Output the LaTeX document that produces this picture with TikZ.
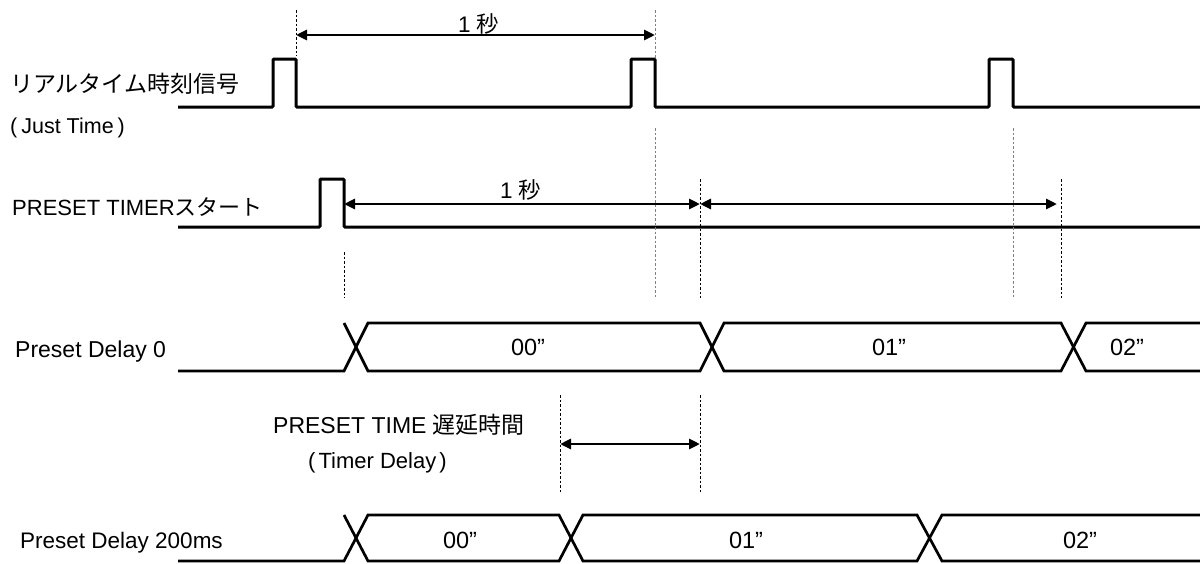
\documentclass[tikz,border=0pt]{standalone}
\usepackage{fontspec}
\setmainfont{Liberation Sans}
\newfontfamily\jp{Noto Sans CJK JP}
\usetikzlibrary{arrows.meta}
\begin{document}
\begin{tikzpicture}[x=1pt,y=-1pt,
  sig/.style={line width=3pt, rounded corners=1pt},
  bus/.style={line width=2.7pt},
  guide/.style={line width=0.8pt, dash pattern=on 2.5pt off 2pt},
  guideg/.style={guide, draw=gray},
  dim/.style={line width=2.8pt, {Triangle[length=11pt,width=10pt]}-{Triangle[length=11pt,width=10pt]}},
  lbl/.style={font=\fontsize{22.5}{26}\selectfont, inner sep=0pt, anchor=base west},
  val/.style={font=\fontsize{23.5}{26}\selectfont, inner sep=0pt, anchor=base},
]
\useasboundingbox (0,0) rectangle (1200,563);

% signal 1
\draw[sig] (178,107) -- (273,107) -- (273,59) -- (296,59) -- (296,107) -- (631,107) -- (631,59) -- (655,59) -- (655,107) -- (989,107) -- (989,59) -- (1013,59) -- (1013,107) -- (1200,107);
% signal 2
\draw[sig] (178,227) -- (320,227) -- (320,179) -- (344,179) -- (344,227) -- (1200,227);
% bus rows
\draw[bus] (178,371) -- (344,371) -- (368,323) -- (700,323) -- (724,371) -- (1061,371) -- (1086,323) -- (1200,323);
\draw[bus] (344,323) -- (368,371) -- (700,371) -- (724,323) -- (1061,323) -- (1086,371) -- (1200,371);
\draw[bus] (178,561) -- (344,561) -- (368,515) -- (559,515) -- (583,561) -- (917,561) -- (942,515) -- (1200,515);
\draw[bus] (344,515) -- (368,561) -- (559,561) -- (583,515) -- (917,515) -- (942,561) -- (1200,561);

% guides
\coordinate (g1a) at (296,10);  \coordinate (g1b) at (296,56);
\coordinate (g2a) at (655,10);  \coordinate (g2b) at (655,58);
\coordinate (g3a) at (655,128); \coordinate (g3b) at (655,297);
\coordinate (g4a) at (1013,128);\coordinate (g4b) at (1013,297);
\coordinate (g5a) at (344,252); \coordinate (g5b) at (344,298);
\coordinate (g6a) at (700,179); \coordinate (g6b) at (700,298);
\coordinate (g7a) at (1061,179);\coordinate (g7b) at (1061,298);
\coordinate (g8a) at (560,395); \coordinate (g8b) at (560,492);
\coordinate (g9a) at (700,395); \coordinate (g9b) at (700,492);
\draw[guide] (g1a) -- (g1b);
\draw[guideg] (g2a) -- (g2b);
\draw[guideg] (g3a) -- (g3b);
\draw[guideg] (g4a) -- (g4b);
\draw[guide] (g5a) -- (g5b);
\draw[guide] (g6a) -- (g6b);
\draw[guide] (g7a) -- (g7b);
\draw[guide] (g8a) -- (g8b);
\draw[guide] (g9a) -- (g9b);

% dimension arrows
\coordinate (d1a) at (296,35);  \coordinate (d1b) at (655,35);
\coordinate (d2a) at (344,204); \coordinate (d2b) at (700,204);
\coordinate (d3a) at (700,204); \coordinate (d3b) at (1057,204);
\coordinate (d4a) at (560,444); \coordinate (d4b) at (700,444);
\draw[dim] (d1a) -- (d1b);
\draw[dim] (d2a) -- (d2b);
\draw[dim] (d3a) -- (d3b);
\draw[dim] (d4a) -- (d4b);

% labels
\node[lbl, font=\jp\fontsize{23}{26}\selectfont] (rt) at (10,92) {リアルタイム時刻信号};
\node[lbl, font=\fontsize{21.5}{26}\selectfont] (jt) at (10,133) {(\hspace{4pt}Just Time\hspace{4pt})};
\node[lbl, font=\fontsize{22}{26}\selectfont] (pt) at (12,215) {PRESET TIMER{\jp スタート}};
\node[lbl, font=\fontsize{23}{26}\selectfont] (pd0) at (15,357) {Preset Delay 0};
\node[lbl, font=\fontsize{23}{26}\selectfont] (ptd) at (273,433) {PRESET TIME {\jp 遅延時間}};
\node[lbl, font=\fontsize{22}{26}\selectfont] (td) at (308,468) {(\hspace{3pt}Timer Delay\hspace{3pt})};
\node[lbl] (pd2) at (20,548) {Preset Delay 200ms};
\node[lbl] (s1) at (458,32) {1 {\jp 秒}};
\node[lbl] (s2) at (500,198) {1 {\jp 秒}};

% values
\node[val] (a0) at (528,355) {00”};
\node[val] (a1) at (889,355) {01”};
\node[val] (a2) at (1127,355) {02”};
\node[val] (b0) at (460,548) {00”};
\node[val] (b1) at (746,548) {01”};
\node[val] (b2) at (1080,548) {02”};
\end{tikzpicture}
\end{document}
